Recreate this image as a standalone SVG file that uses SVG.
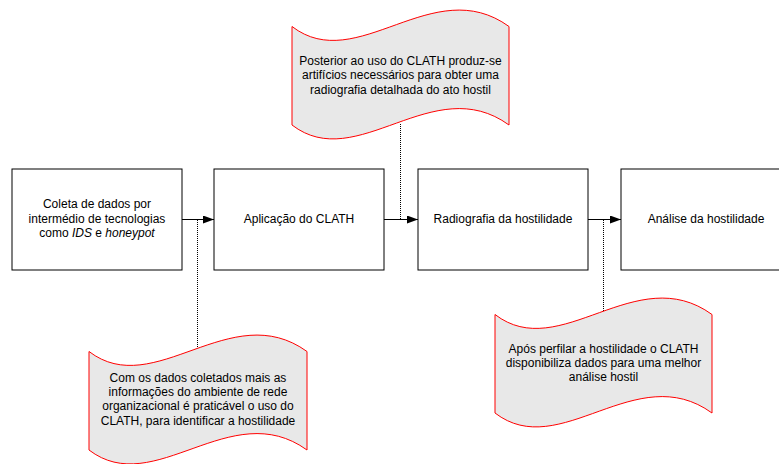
<svg xmlns="http://www.w3.org/2000/svg" width="779" height="464" viewBox="0 0 779 464">
<defs>
<style>
.box{fill:#ffffff;stroke:#000000;stroke-width:1}
.tape{fill:#e8e8e8;stroke:#ff0000;stroke-width:1}
.t{font-family:"Liberation Sans",Arial,sans-serif;font-size:12px;fill:#000000;text-anchor:middle}
.flow{stroke:#000000;stroke-width:1;fill:none;marker-end:url(#ah)}
.dot{stroke:#000000;stroke-width:1;fill:none;stroke-dasharray:1,1}
</style>
<marker id="ah" viewBox="0 0 11 8" refX="11" refY="4" markerWidth="11" markerHeight="8" markerUnits="userSpaceOnUse" orient="auto">
<path d="M0,0 L11,4 L0,8 Z" fill="#000000"/>
</marker>
</defs>
<rect width="779" height="464" fill="#ffffff"/>

<g id="connectors">
<line class="flow" x1="182" y1="219.5" x2="214" y2="219.5"/>
<line class="flow" x1="384" y1="219.5" x2="418" y2="219.5"/>
<line class="flow" x1="588" y1="219.5" x2="621" y2="219.5"/>
<line class="dot" x1="197.5" y1="220" x2="197.5" y2="350"/>
<line class="dot" x1="400.5" y1="124" x2="400.5" y2="219"/>
<line class="dot" x1="603.5" y1="220" x2="603.5" y2="313"/>
</g>

<g id="box1">
<rect class="box" x="12" y="169" width="170" height="101"/>
<text class="t" x="97" y="208.3">Coleta de dados por</text>
<text class="t" x="97" y="222.6">intermédio de tecnologias</text>
<text class="t" x="97" y="236.9">como <tspan font-style="italic">IDS</tspan> e <tspan font-style="italic">honeypot</tspan></text>
</g>

<g id="box2">
<rect class="box" x="214" y="169" width="170" height="101"/>
<text class="t" x="299" y="223">Aplicação do CLATH</text>
</g>

<g id="box3">
<rect class="box" x="418" y="169" width="170" height="101"/>
<text class="t" x="503" y="223">Radiografia da hostilidade</text>
</g>

<g id="box4">
<rect class="box" x="621" y="169" width="170" height="101"/>
<text class="t" x="706" y="223">Análise da hostilidade</text>
</g>

<g id="note1">
<path class="tape" d="M89,351.5 C154.4,401.5 230.7,296.5 307,351.5 L307,450 C230.7,395 154.4,500 89,450 Z"/>
<text class="t" x="198" y="381.7">Com os dados coletados mais as</text>
<text class="t" x="198" y="396">informações do ambiente de rede</text>
<text class="t" x="198" y="410.4">organizacional é praticável o uso do</text>
<text class="t" x="198" y="424.7">CLATH, para identificar a hostilidade</text>
</g>

<g id="note2">
<path class="tape" d="M292,26.5 C357.1,76.5 433,-28.5 509,26.5 L509,125 C433,70 357.1,175 292,125 Z"/>
<text class="t" x="400.5" y="65">Posterior ao uso do CLATH produz-se</text>
<text class="t" x="400.5" y="79.3">artifícios necessários para obter uma</text>
<text class="t" x="400.5" y="93.6">radiografia detalhada do ato hostil</text>
</g>

<g id="note3">
<path class="tape" d="M495,314.5 C560.1,364.5 636,259.5 712,314.5 L712,413 C636,358 560.1,463 495,413 Z"/>
<text class="t" x="603.5" y="352.7">Após perfilar a hostilidade o CLATH</text>
<text class="t" x="603.5" y="367">disponibiliza dados para uma melhor</text>
<text class="t" x="603.5" y="381.3">análise hostil</text>
</g>
</svg>
